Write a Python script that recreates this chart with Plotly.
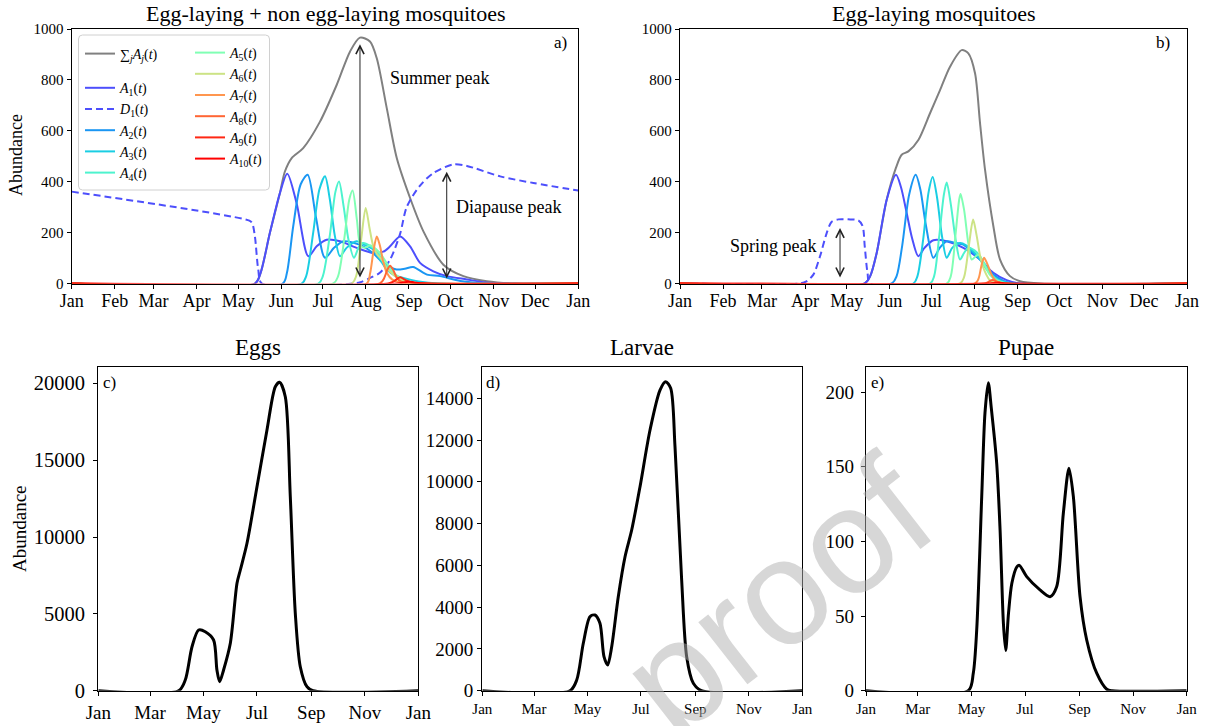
import plotly.graph_objects as go

W, H = 1207, 726
def px_x(p):
    return p / W
def px_y(p):
    return 1 - p / H

# ---------------- tick labels ----------------
MONTH_DAYS = [0, 31, 59, 90, 120, 151, 181, 212, 243, 273, 304, 334, 365]
MONTH_LABELS = ["Jan", "Feb", "Mar", "Apr", "May", "Jun", "Jul", "Aug", "Sep", "Oct", "Nov", "Dec", "Jan"]
BIMONTH_DAYS = [0, 59, 120, 181, 243, 304, 365]
BIMONTH_LABELS = ["Jan", "Mar", "May", "Jul", "Sep", "Nov", "Jan"]

# ---------------- panel a: egg-laying + non egg-laying ----------------
SUM_A_DAYS = [0, 132, 136, 142.8, 150, 153.6, 158.5, 166.8, 178.9, 190.9, 200.5, 207.7, 214.9, 219.8, 227, 234.2, 243.8, 253.4, 267.8, 282.2, 299.1, 320, 365]
SUM_A_VALS = [0, 0, 40, 199, 355, 440, 493, 532, 636, 780, 911, 966, 951, 885, 689, 493, 336, 205, 74, 29, 9, 0, 0]

A1_A_DAYS = [0, 132, 136, 142.8, 150, 155.3, 162, 170.5, 176.5, 183.7, 193.3, 205.3, 217.3, 224.5, 229.4, 236.6, 243.8, 251, 260.6, 270.3, 284.7, 300, 365]
A1_A_VALS = [0, 0, 40, 199, 355, 431, 316, 107, 146, 172, 166, 140, 120, 125, 146, 185, 146, 81, 48, 29, 16, 3, 0]

D1_A_DAYS = [0, 128, 130, 132, 134.4, 137, 203, 208, 215, 222, 229.4, 236.6, 241.4, 251, 260.6, 275, 284.7, 308.7, 332.7, 365]
D1_A_VALS = [361, 247, 238, 185, 55, 0, 0, 5, 22, 42, 94, 195, 301, 385, 434, 468, 462, 421, 395, 365]

A2_A_DAYS = [0, 152, 155, 159.6, 165, 170, 176, 182.5, 189, 195.7, 203, 210, 217, 224.5, 234, 240, 246, 256, 265.4, 280, 300, 365]
A2_A_VALS = [0, 0, 40, 225, 390, 427, 260, 101, 140, 166, 160, 146, 120, 81, 55, 58, 65, 35, 29, 10, 0, 0]

A3_A_DAYS = [0, 165.7, 169, 174, 178.5, 182.5, 186, 189.5, 193.3, 198, 205.3, 211, 217.3, 222, 227, 233, 239, 250, 265, 365]
A3_A_VALS = [0, 0, 30, 200, 370, 421, 330, 190, 107, 140, 166, 152, 133, 95, 55, 32, 22, 8, 0, 0]

A4_A_DAYS = [0, 177.7, 181, 186, 190, 192.6, 196, 199.5, 203.4, 207, 210, 215, 219.8, 224, 229.4, 235, 245, 255, 365]
A4_A_VALS = [0, 0, 30, 190, 360, 401, 300, 170, 101, 145, 159, 148, 127, 90, 48, 22, 5, 0, 0]

A5_A_DAYS = [0, 188.5, 192, 196.5, 200, 202.4, 205.5, 208, 211, 215, 222, 227, 231.8, 240, 252, 365]
A5_A_VALS = [0, 0, 30, 180, 330, 365, 250, 150, 140, 150, 120, 80, 42, 12, 0, 0]

A6_A_DAYS = [0, 201.7, 205, 208.5, 211.8, 214.5, 217.3, 220, 223.4, 227, 231.8, 240, 250, 365]
A6_A_VALS = [0, 0, 30, 170, 297, 220, 146, 115, 94, 60, 35, 8, 0, 0]

A7_A_DAYS = [0, 212.5, 215, 217.5, 219.8, 222, 224.5, 227, 231, 237, 245, 365]
A7_A_VALS = [0, 0, 40, 130, 185, 150, 85, 42, 15, 3, 0, 0]

A8_A_DAYS = [0, 222, 225, 227.5, 229.4, 231.5, 234, 237, 241, 250, 365]
A8_A_VALS = [0, 0, 20, 55, 70, 55, 25, 8, 2, 0, 0]

A9_A_DAYS = [0, 228, 232, 236.6, 240, 244, 252, 365]
A9_A_VALS = [0, 0, 8, 25, 15, 5, 0, 0]

A10_A_DAYS = [0, 235, 240, 243, 247, 255, 365]
A10_A_VALS = [0, 0, 5, 8, 4, 0, 0]

# ---------------- panel b: egg-laying only ----------------
SUM_B_DAYS = [0, 133, 137, 141.6, 148.8, 155.5, 159.6, 164.4, 171.6, 180, 187.2, 194.4, 202.8, 207.6, 212.4, 216, 219.6, 225.6, 230.4, 237.6, 244.8, 260, 365]
SUM_B_VALS = [0, 0, 30, 120, 329, 455, 506, 519, 564, 669, 760, 852, 917, 904, 826, 630, 447, 225, 94, 29, 9, 0, 0]

A1_B_DAYS = [0, 133, 137, 141.6, 148.8, 155.5, 159, 163.2, 167, 171.6, 176, 182.4, 192, 204, 216, 225.6, 235.2, 245, 365]
A1_B_VALS = [0, 0, 30, 120, 329, 427, 380, 277, 180, 107, 140, 170, 166, 140, 94, 42, 13, 0, 0]

D1_B_DAYS = [0, 86, 91, 96, 100.8, 105.6, 109.2, 114, 121, 128.4, 131.5, 133, 135, 137, 365]
D1_B_VALS = [0, 0, 8, 35, 107, 198, 243, 252, 252, 248, 225, 146, 42, 0, 0]

A2_B_DAYS = [0, 152.4, 156, 160, 165, 169.7, 173, 177, 182.4, 187, 192, 198, 204, 210, 216, 225.6, 233, 240, 365]
A2_B_VALS = [0, 0, 30, 150, 350, 427, 370, 230, 101, 140, 166, 160, 153, 125, 94, 35, 10, 0, 0]

A3_B_DAYS = [0, 168, 171, 175, 179, 181.9, 185, 188.5, 192, 196, 201.6, 206, 211, 216, 220.8, 226, 232, 240, 365]
A3_B_VALS = [0, 0, 30, 170, 360, 418, 340, 190, 101, 140, 159, 150, 127, 95, 55, 25, 8, 0, 0]

A4_B_DAYS = [0, 180, 183, 186.5, 190, 192, 195, 198.5, 201.6, 204.5, 207.6, 212, 216, 220, 223, 228, 235, 365]
A4_B_VALS = [0, 0, 30, 180, 350, 397, 310, 170, 94, 120, 140, 130, 107, 70, 42, 15, 0, 0]

A5_B_DAYS = [0, 192, 195, 198.5, 201, 202, 204.5, 207.5, 210, 212.5, 214.8, 219, 223, 228, 235, 365]
A5_B_VALS = [0, 0, 30, 200, 330, 352, 290, 160, 94, 105, 114, 75, 35, 12, 0, 0]

A6_B_DAYS = [0, 201.6, 204.5, 208, 211, 213.5, 216, 218, 220.5, 223, 228, 365]
A6_B_VALS = [0, 0, 25, 150, 251, 190, 110, 68, 35, 13, 0, 0]

A7_B_DAYS = [0, 212.4, 215, 217, 218.9, 221, 223.5, 225.6, 228, 232, 365]
A7_B_VALS = [0, 0, 20, 70, 101, 80, 45, 22, 8, 0, 0]

A8_B_DAYS = [0, 219, 222, 225, 228, 233, 365]
A8_B_VALS = [0, 0, 6, 14, 7, 0, 0]

A9_B_DAYS = [0, 223, 227, 230, 235, 365]
A9_B_VALS = [0, 0, 3, 4, 0, 0]

A10_B_DAYS = [0, 226, 230, 235, 365]
A10_B_VALS = [0, 0, 2, 0, 0]

# ---------------- bottom panels ----------------
EGG_DAYS = [0, 91.6, 99.2, 106.9, 114.4, 122, 131.5, 135.3, 138.4, 142.9, 150.6, 158.2, 162, 169.6, 181, 192.4, 201.9, 206.8, 213.3, 219, 224.7, 230.4, 238, 245, 365]
EGG_VALS = [0, 0, 696, 2863, 3949, 3839, 3299, 1347, 586, 1347, 3084, 6988, 7853, 9590, 13272, 16961, 19779, 20065, 19128, 12622, 5036, 1561, 260, 0, 0]

LARVAE_DAYS = [0, 100, 107.7, 115.2, 122.8, 128.5, 134.2, 138.8, 143, 147.6, 155.1, 162.8, 170.4, 179.9, 191.3, 202.7, 209.2, 214.9, 219.8, 227.4, 233.1, 240.7, 250, 365]
LARVAE_VALS = [0, 0, 512, 2269, 3543, 3624, 3227, 1628, 1230, 2107, 4501, 6416, 7694, 9768, 12482, 14397, 14795, 14479, 11683, 5300, 1628, 354, 0, 0]

PUPAE_DAYS = [0, 116.4, 122.1, 126, 131.7, 135.4, 139.2, 142.5, 148.8, 152.6, 156.4, 159, 162.2, 166, 171.7, 174.5, 182.9, 198, 209.4, 217, 224.6, 231, 236, 243.6, 251.2, 262.6, 274, 280, 365]
PUPAE_VALS = [0, 0, 11.7, 40.7, 130, 186, 206.4, 190, 152, 107.7, 45, 27, 52, 72, 83, 84, 76.4, 67.5, 63, 69.7, 118.9, 149, 130, 63, 34, 11.7, 1, 0, 0]

# ---------------- styles ----------------
GRAY = "#808080"
A_COLORS = ["#4d4ffc", "#1a96f3", "#1acee3", "#4df3ce", "#80ffb4",
            "#cce385", "#ff964f", "#ff6534", "#ff2814", "#ff0000"]
D1_COLOR = "#4d4ffc"
SERIF = "Liberation Serif"

fig = go.Figure()

def line(x, y, color, xa, ya, name=None, show=False, dash=None, width=2.0, legend="legend", group=None):
    fig.add_trace(go.Scatter(
        x=x, y=y, mode="lines", name=name, showlegend=show,
        legend=legend, legendgroup=group,
        line=dict(color=color, width=width, dash=dash, shape="spline", smoothing=0.8),
        xaxis=xa, yaxis=ya, hoverinfo="skip"))

lab_sum = "∑<sub><i>j</i></sub><i>A<sub>j</sub></i>(<i>t</i>)"
def lab(letter, i):
    return f"<i>{letter}</i><sub>{i}</sub>(<i>t</i>)"

A_LISTS_A = [(A1_A_DAYS, A1_A_VALS), (A2_A_DAYS, A2_A_VALS), (A3_A_DAYS, A3_A_VALS), (A4_A_DAYS, A4_A_VALS),
             (A5_A_DAYS, A5_A_VALS), (A6_A_DAYS, A6_A_VALS), (A7_A_DAYS, A7_A_VALS), (A8_A_DAYS, A8_A_VALS),
             (A9_A_DAYS, A9_A_VALS), (A10_A_DAYS, A10_A_VALS)]
A_LISTS_B = [(A1_B_DAYS, A1_B_VALS), (A2_B_DAYS, A2_B_VALS), (A3_B_DAYS, A3_B_VALS), (A4_B_DAYS, A4_B_VALS),
             (A5_B_DAYS, A5_B_VALS), (A6_B_DAYS, A6_B_VALS), (A7_B_DAYS, A7_B_VALS), (A8_B_DAYS, A8_B_VALS),
             (A9_B_DAYS, A9_B_VALS), (A10_B_DAYS, A10_B_VALS)]

# panel a
line(SUM_A_DAYS, SUM_A_VALS, GRAY, "x", "y", lab_sum, True, group="g0")
line(A1_A_DAYS, A1_A_VALS, A_COLORS[0], "x", "y", lab("A", 1), True, group="g1")
line(D1_A_DAYS, D1_A_VALS, D1_COLOR, "x", "y", lab("D", 1), True, dash="7px,4px", group="g1")
for i in range(1, 10):
    d, v = A_LISTS_A[i]
    if i < 4:
        line(d, v, A_COLORS[i], "x", "y", lab("A", i + 1), True, legend="legend", group="g1")
    else:
        line(d, v, A_COLORS[i], "x", "y", lab("A", i + 1), True, legend="legend2", group="h1")

# panel b
line(SUM_B_DAYS, SUM_B_VALS, GRAY, "x2", "y2")
line(A1_B_DAYS, A1_B_VALS, A_COLORS[0], "x2", "y2")
line(D1_B_DAYS, D1_B_VALS, D1_COLOR, "x2", "y2", dash="7px,4px")
for i in range(1, 10):
    d, v = A_LISTS_B[i]
    line(d, v, A_COLORS[i], "x2", "y2")

# bottom
line(EGG_DAYS, EGG_VALS, "black", "x3", "y3", width=3)
line(LARVAE_DAYS, LARVAE_VALS, "black", "x4", "y4", width=3)
line(PUPAE_DAYS, PUPAE_VALS, "black", "x5", "y5", width=3)

def xax(dom, tv, tt, fs, anchor, standoff=0):
    return dict(domain=[px_x(dom[0]), px_x(dom[1])], range=[0, 365], tickvals=tv, ticktext=tt,
                showline=True, mirror=True, linecolor="black", linewidth=1.3, automargin=False,
                ticks="outside", ticklen=4, tickwidth=1, tickcolor="black", anchor=anchor,
                ticklabelstandoff=standoff,
                showgrid=False, zeroline=False, tickfont=dict(family=SERIF, size=fs, color="black"))

def yax(dom, rng, tv, fs, anchor, standoff=0):
    return dict(domain=[px_y(dom[1]), px_y(dom[0])], range=rng, tickvals=tv, tickformat="d",
                showline=True, mirror=True, linecolor="black", linewidth=1.3, automargin=False,
                ticks="outside", ticklen=4, tickwidth=1, tickcolor="black",
                ticklabelstandoff=standoff,
                showgrid=False, zeroline=False, anchor=anchor,
                tickfont=dict(family=SERIF, size=fs, color="black"))

TOP_Y = (29, 283.5)
BOT_Y = (366.7, 690.7)

fig.update_layout(
    width=W, height=H, margin=dict(l=0, r=0, t=0, b=0, autoexpand=False),
    paper_bgcolor="white", plot_bgcolor="white",
    xaxis=xax((71.7, 578.3), MONTH_DAYS, MONTH_LABELS, 18, "y", -3),
    yaxis=yax(TOP_Y, [0, 1000], [0, 200, 400, 600, 800, 1000], 15, "x"),
    xaxis2=xax((680, 1187), MONTH_DAYS, MONTH_LABELS, 18, "y2", -3),
    yaxis2=yax(TOP_Y, [0, 1000], [0, 200, 400, 600, 800, 1000], 15, "x2"),
    xaxis3=xax((98.3, 418.3), BIMONTH_DAYS, BIMONTH_LABELS, 19, "y3"),
    yaxis3=yax(BOT_Y, [0, 21080], [0, 5000, 10000, 15000, 20000], 20.5, "x3", 4),
    xaxis4=xax((482.3, 802.3), BIMONTH_DAYS, BIMONTH_LABELS, 15, "y4"),
    yaxis4=yax(BOT_Y, [0, 15513], [0, 2000, 4000, 6000, 8000, 10000, 12000, 14000], 19, "x4"),
    xaxis5=xax((866, 1186.7), BIMONTH_DAYS, BIMONTH_LABELS, 15, "y5"),
    yaxis5=yax(BOT_Y, [0, 217.1], [0, 50, 100, 150, 200], 19, "x5", 3),
    legend=dict(x=px_x(80), y=px_y(38), xanchor="left", yanchor="top", bgcolor="rgba(0,0,0,0)",
                font=dict(family=SERIF, size=14, color="black"), traceorder="grouped", tracegroupgap=13),
    legend2=dict(x=px_x(190), y=px_y(37), xanchor="left", yanchor="top", bgcolor="rgba(0,0,0,0)",
                 font=dict(family=SERIF, size=14, color="black"), traceorder="grouped", tracegroupgap=0),
    showlegend=True,
)

# legend frame
x0, x1, y0, y1 = px_x(78.5), px_x(269.5), px_y(190), px_y(35)
rx, ry = 4 / W, 4 / H
path = (f"M{x0+rx},{y1} L{x1-rx},{y1} Q{x1},{y1} {x1},{y1-ry} L{x1},{y0+ry} Q{x1},{y0} {x1-rx},{y0} "
        f"L{x0+rx},{y0} Q{x0},{y0} {x0},{y0+ry} L{x0},{y1-ry} Q{x0},{y1} {x0+rx},{y1} Z")
fig.add_shape(type="path", path=path, xref="paper", yref="paper", layer="above",
              line=dict(color="#d0d0d0", width=1), fillcolor="rgba(255,255,255,0.8)")

ann = []
def text(x, y, s, size, xref="paper", yref="paper", xanchor="center", angle=0, family=SERIF, color="black"):
    ann.append(dict(x=x, y=y, xref=xref, yref=yref, text=s, showarrow=False, xanchor=xanchor,
                    yanchor="middle", textangle=angle, font=dict(family=family, size=size, color=color)))

text(px_x(325.5), px_y(13), "Egg-laying + non egg-laying mosquitoes", 22)
text(px_x(933.5), px_y(13), "Egg-laying mosquitoes", 22)
text(px_x(258.3), px_y(348), "Eggs", 23)
text(px_x(642.3), px_y(348), "Larvae", 23)
text(px_x(1026.3), px_y(348), "Pupae", 23)
text(px_x(16), px_y(155), "Abundance", 18, angle=-90)
text(px_x(19), px_y(529), "Abundance", 19, angle=-90)
text(px_x(560), px_y(42), "a)", 17)
text(px_x(1163), px_y(42), "b)", 17)
text(px_x(109), px_y(383), "c)", 17)
text(px_x(493), px_y(383), "d)", 17)
text(px_x(877), px_y(383), "e)", 17)
text(265, 806, "Summer peak", 18, xref="x", yref="y")
text(314.4, 302, "Diapause peak", 18, xref="x", yref="y")
text(67, 149, "Spring peak", 18, xref="x2", yref="y2")

def arrow(x, ytop, ybot, xr, yr):
    ann.append(dict(x=x, y=ytop, ax=x, ay=ybot, xref=xr, yref=yr, axref=xr, ayref=yr, text="",
                    showarrow=True, arrowside="end+start", arrowhead=5, startarrowhead=5,
                    arrowsize=1.6, startarrowsize=1.6, arrowwidth=1, arrowcolor="#222222"))

arrow(207.7, 940, 18, "x", "y")
arrow(270.2, 439, 14, "x", "y")
arrow(115.2, 218, 18, "x2", "y2")

# watermark
ann.append(dict(x=px_x(776), y=px_y(770), xref="paper", yref="paper", text="proof", showarrow=False,
                textangle=-38, font=dict(family="Liberation Sans", size=150, color="rgba(175,175,175,0.5)")))

fig.update_layout(annotations=ann)
fig.write_html("out.html", config={"displayModeBar": False},
               post_script="document.body.style.margin='0px';document.body.style.overflow='hidden';")
